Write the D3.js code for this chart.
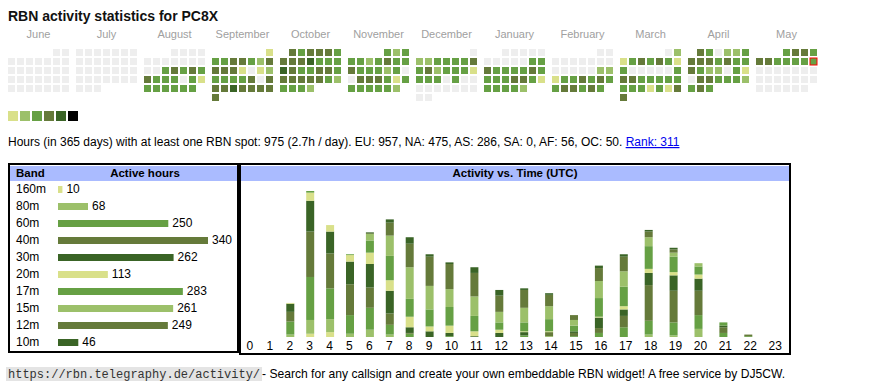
<!DOCTYPE html>
<html><head><meta charset="utf-8">
<script src="https://cdn.jsdelivr.net/npm/d3@7"></script>
<style>
body{margin:0;background:#fff;}
svg text{font-family:"Liberation Sans",Arial,Helvetica,sans-serif;}
</style>
</head><body><svg id="c" width="870" height="390"></svg>
<script>
// ---------------- data ----------------
const callsign = "PC8X";
const monthNames = ["June","July","August","September","October","November","December","January","February","March","April","May"];
const monthStarts = ["2024-06-01","2024-07-01","2024-08-01","2024-09-01","2024-10-01","2024-11-01","2024-12-01","2025-01-01","2025-02-01","2025-03-01","2025-04-01","2025-05-01"];
// daily activity level per month (0 = none, 1..5 = colour steps)
const dayLevels = [
  "000000000000000000000000000000",
  "0000000000000000000000000000000",
  "0000000000000343434333031333333",
  "133443244441012333340444544444",
  "4344434445333543344344444323332",
  "323332343343332300444313333332",
  "0223333434233313330300000000000",
  "0000000000334333343333443133332",
  "0000000000000022133434334434 3".replace(" ",""),
  "0213434313000003443333333313144",
  "430223444343343220310443332343",
  "3443443333300000000000000000000"
];
const todayDate = "2025-05-11";
const levelColors = ["#eeeeee","#d9e08a","#9cc06a","#66a044","#657a3a","#3a6426"];
const legendColors = ["#d9e08a","#9cc06a","#66a044","#657a3a","#3a6426","#000000"];

const totalHours = 975, hoursPerDay = "2.7";
const continents = ["EU","NA","AS","SA","AF","OC"];
const continentHours = [957,475,286,0,56,50];
const rank = 311;

const bands = ["160m","80m","60m","40m","30m","20m","17m","15m","12m","10m"];
const bandHours = [10,68,250,340,262,113,283,261,249,46];
const bandColors = ["#d9e08a","#9cc06a","#66a044","#657a3a","#3a6426","#d9e08a","#66a044","#9cc06a","#657a3a","#3a6426"];

const hourLabels = ["0","1","2","3","4","5","6","7","8","9","10","11","12","13","14","15","16","17","18","19","20","21","22","23"];
const h160m = [0,0,0,4,6,0,0,0,0,0,0,0,0,0,0,0,0,0,0,0,0,0,0,0];
const h80m  = [0,0,3,17,16,4,9,3,0,0,0,0,0,0,1,0,0,0,3,2,10,0,0,0];
const h60m  = [0,0,16,53,38,23,27,12,4,0,1,0,0,2,0,1,5,12,17,16,17,5,1,0];
const h40m  = [0,0,12,56,43,38,25,14,1,0,0,0,0,0,5,4,6,14,44,39,30,7,2,0];
const h30m  = [0,0,10,38,27,28,29,28,7,7,4,1,5,4,0,2,13,8,15,19,15,2,0,0];
const h20m  = [0,0,1,10,8,8,14,13,13,6,9,6,4,1,1,0,1,4,5,4,5,0,0,0];
const h17m  = [0,0,0,2,0,1,15,30,22,21,23,19,9,11,15,7,23,24,28,19,10,4,0,0];
const h15m  = [0,0,0,0,0,0,8,25,39,29,22,24,13,18,16,7,21,19,11,5,4,0,0,0];
const h12m  = [0,0,0,0,0,0,1,16,29,36,31,29,20,22,14,6,16,18,7,4,0,0,0,0];
const h10m  = [0,0,0,0,0,0,1,4,8,3,2,7,7,2,2,0,3,3,2,2,0,0,0,0];

const footerUrl = "https://rbn.telegraphy.de/activity/";
const footerText = " - Search for any callsign and create your own embeddable RBN widget! A free service by DJ5CW.";

// ---------------- drawing ----------------
const svg = d3.select("#c");

svg.append("text").attr("x",8).attr("y",21)
  .attr("font-size",14).attr("font-weight","bold").attr("fill","#111")
  .text("RBN activity statistics for " + callsign);

// calendar
const monthX = d3.scaleLinear().domain([0,12]).range([8, 8+68*12]);
const cellX = d3.scaleLinear().domain([0,7]).range([0,63]);
const cellY = d3.scaleLinear().domain([0,6]).range([49,49+54]);
const parse = d3.utcParse("%Y-%m-%d");
const today = parse(todayDate);

monthNames.forEach((name,m)=>{
  const g = svg.append("g");
  g.append("text").attr("x", monthX(m)+30.5).attr("y",38)
    .attr("text-anchor","middle").attr("font-size",11).attr("fill","#a0a0a0").text(name);
  const start = parse(monthStarts[m]);
  const days = dayLevels[m].split("").map((c,i)=>{
    const date = d3.utcDay.offset(start,i);
    return {date, level:+c,
      col:(date.getUTCDay()+6)%7,
      row:d3.utcMonday.count(start,date)};
  });
  g.selectAll("rect").data(days).join("rect")
    .attr("x",d=>monthX(m)+cellX(d.col))
    .attr("y",d=>cellY(d.row))
    .attr("width",7).attr("height",7)
    .attr("fill",d=>levelColors[d.level])
    .attr("stroke",d=>+d.date===+today?"#ff0000":"none")
    .attr("stroke-width",1);
});

// legend
svg.selectAll("rect.leg").data(legendColors).join("rect").attr("class","leg")
  .attr("x",(d,i)=>8+12*i).attr("y",111).attr("width",10).attr("height",10)
  .attr("fill",d=>d);

// info line
const info = svg.append("text").attr("x",8).attr("y",146).attr("font-size",12).attr("fill","#000");
info.append("tspan").text("Hours (in 365 days) with at least one RBN spot: "+totalHours+" ("+hoursPerDay+"h / day). "+
  continents.map((c,i)=>c+": "+continentHours[i]).join(", ")+". ");
info.append("tspan").attr("fill","#0000ee").attr("text-decoration","underline").text("Rank: "+rank);

// band table
svg.append("rect").attr("x",9).attr("y",164).attr("width",229).attr("height",188)
  .attr("fill","none").attr("stroke","#000").attr("stroke-width",2);
svg.append("rect").attr("x",10).attr("y",166).attr("width",227).attr("height",15).attr("fill","#aabbff");
svg.append("text").attr("x",16).attr("y",177).attr("font-size",11.5).attr("font-weight","bold").text("Band");
svg.append("text").attr("x",145).attr("y",177).attr("text-anchor","middle").attr("font-size",11.5).attr("font-weight","bold").text("Active hours");

const bx = d3.scaleLinear().domain([0,d3.max(bandHours)]).range([0,150]);
const by = d3.scaleBand().domain(bands).range([182,352]);
const rows = svg.append("g").selectAll("g").data(bands).join("g");
rows.append("text").attr("x",16).attr("y",b=>by(b)+11).attr("font-size",12).text(b=>b);
rows.append("rect").attr("x",58).attr("y",b=>by(b)+4).attr("height",7)
  .attr("width",(b,i)=>bx(bandHours[i])).attr("fill",(b,i)=>bandColors[i]);
rows.append("text").attr("x",(b,i)=>58+bx(bandHours[i])+4).attr("y",b=>by(b)+11)
  .attr("font-size",12).text((b,i)=>bandHours[i]);

// activity chart
svg.append("rect").attr("x",240).attr("y",164).attr("width",550).attr("height",190)
  .attr("fill","none").attr("stroke","#000").attr("stroke-width",2);
svg.append("rect").attr("x",241).attr("y",166).attr("width",548).attr("height",15).attr("fill","#aabbff");
svg.append("text").attr("x",515).attr("y",177).attr("text-anchor","middle").attr("font-size",11.5).attr("font-weight","bold").text("Activity vs. Time (UTC)");

const series = [h160m,h80m,h60m,h40m,h30m,h20m,h17m,h15m,h12m,h10m];
const hourRows = hourLabels.map((h,i)=>{const o={hour:i}; bands.forEach((b,j)=>o[b]=series[j][i]); return o;});
const stack = d3.stack().keys(bands)(hourRows);
const maxTotal = d3.max(hourRows, r=>d3.sum(bands,b=>r[b]));
const cellLeft = d3.scaleLinear().domain([0,10,24]).range([240,439,787.6]);
const ay = d3.scaleLinear().domain([0,maxTotal]).range([337,191]);

svg.append("g").selectAll("g").data(stack).join("g")
  .attr("fill",(s,i)=>bandColors[i])
  .selectAll("rect").data(d=>d).join("rect")
  .attr("x",(d,i)=>cellLeft(i)+6.5).attr("width",8)
  .attr("y",d=>ay(d[1])).attr("height",d=>ay(d[0])-ay(d[1]));

svg.append("g").selectAll("text").data(hourLabels).join("text")
  .attr("x",(d,i)=>(cellLeft(i)+cellLeft(i+1))/2).attr("y",350)
  .attr("text-anchor","middle").attr("font-size",12).text(d=>d);

// footer
const urlText = svg.append("text").attr("x",8).attr("y",378)
  .attr("font-size",12).attr("fill","#333")
  .style("font-family","'Liberation Mono',monospace").text(footerUrl);
const uw = urlText.node().getComputedTextLength();
svg.insert("rect","text").attr("x",6).attr("y",367).attr("width",uw+4).attr("height",14).attr("fill","#e4e4e4");
svg.append("text").attr("x",8+uw+2).attr("y",378).attr("font-size",12.1)
  .style("font-family","'Liberation Sans Narrow','Liberation Sans',sans-serif").text(footerText);
</script></body></html>
